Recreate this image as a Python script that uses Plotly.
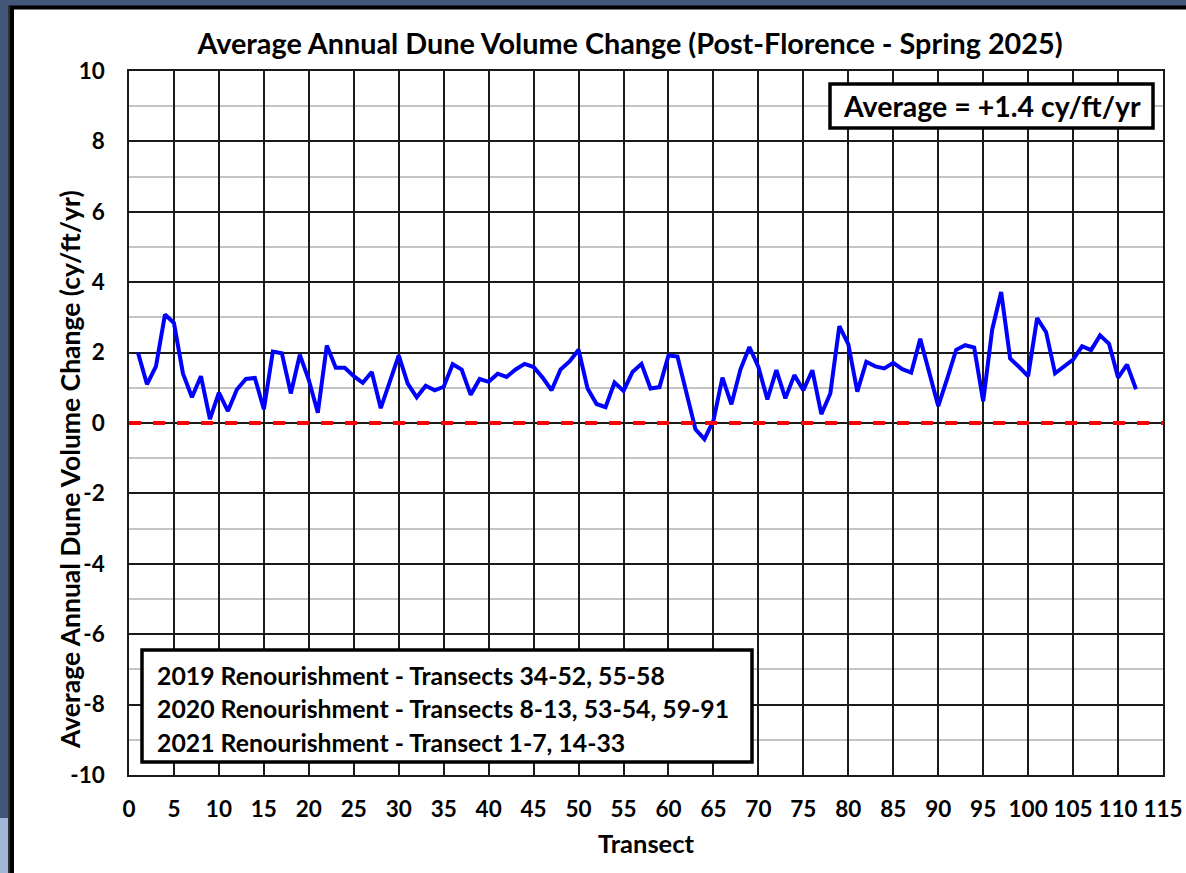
import plotly.graph_objects as go

# ---- data ----
transects = list(range(1, 113))
volume_change = [
    2.00, 1.10, 1.61, 3.08, 2.84, 1.41, 0.73, 1.33, 0.11, 0.86,
    0.34, 0.95, 1.25, 1.28, 0.39, 2.03, 1.98, 0.84, 1.94, 1.22,
    0.29, 2.20, 1.57, 1.57, 1.33, 1.14, 1.45, 0.42, 1.17, 1.92,
    1.12, 0.73, 1.06, 0.93, 1.03, 1.67, 1.52, 0.80, 1.25, 1.17,
    1.40, 1.31, 1.52, 1.68, 1.59, 1.29, 0.93, 1.52, 1.75, 2.08,
    0.98, 0.54, 0.45, 1.15, 0.91, 1.45, 1.68, 0.98, 1.02, 1.92,
    1.89, 0.84, -0.18, -0.46, 0.07, 1.29, 0.53, 1.52, 2.16, 1.59,
    0.67, 1.50, 0.70, 1.36, 0.93, 1.50, 0.25, 0.84, 2.75, 2.24,
    0.89, 1.74, 1.61, 1.55, 1.71, 1.53, 1.43, 2.39, 1.45, 0.48,
    1.26, 2.08, 2.21, 2.14, 0.62, 2.65, 3.72, 1.83, 1.59, 1.33,
    2.98, 2.58, 1.41, 1.62, 1.80, 2.18, 2.07, 2.49, 2.25, 1.29,
    1.66, 0.96,
]
x_ticks = list(range(0, 120, 5))
y_ticks = list(range(-10, 12, 2))
title_text = "Average Annual Dune Volume Change (Post-Florence - Spring 2025)"
x_title = "Transect"
y_title = "Average Annual Dune Volume Change (cy/ft/yr)"
average_text = "Average = +1.4 cy/ft/yr"
renourish_lines = [
    "2019 Renourishment - Transects 34-52, 55-58",
    "2020 Renourishment - Transects 8-13, 53-54, 59-91",
    "2021 Renourishment - Transect 1-7, 14-33",
]

FONT = "Lato"
W, H = 1186, 873
L, R, T, B = 129, 23, 71, 98
PW, PH = W - L - R, H - T - B


def px(xp):
    return (xp - L) / PW


def py(yp):
    return (H - B - yp) / PH


def bold(size):
    return dict(family=FONT, size=size, color="black", weight="bold")


fig = go.Figure()
fig.add_trace(go.Scatter(
    x=transects, y=volume_change, mode="lines",
    line=dict(color="#0000ff", width=4), showlegend=False,
))

shapes = [
    # white card with black border (frame)
    dict(type="rect", xref="paper", yref="paper",
         x0=px(12), x1=px(1240), y0=py(920), y1=py(7.5),
         fillcolor="white", line=dict(color="black", width=4), layer="below"),
    dict(type="line", xref="paper", yref="paper",
         x0=px(9), x1=px(9), y0=py(920), y1=py(5),
         line=dict(color="#2a2f3a", width=2), layer="below"),
    # lighter strip bottom left
    dict(type="rect", xref="paper", yref="paper",
         x0=px(-5), x1=px(8), y0=py(880), y1=py(818),
         fillcolor="#a3b6d6", line=dict(width=0), layer="below"),
    # zero reference line
    dict(type="line", xref="paper", yref="y", x0=0, x1=1, y0=0, y1=0,
         line=dict(color="#ff0000", width=4, dash="12px,12px"), layer="above"),
    # average box
    dict(type="rect", xref="paper", yref="paper",
         x0=px(830), x1=px(1153), y0=py(128), y1=py(84),
         fillcolor="white", line=dict(color="black", width=3.5), layer="above"),
    # renourishment box
    dict(type="rect", xref="paper", yref="paper",
         x0=px(142), x1=px(752), y0=py(762), y1=py(650),
         fillcolor="white", line=dict(color="black", width=3.5), layer="above"),
]

annotations = [
    dict(text=average_text, xref="paper", yref="paper",
         x=px(991.5), y=py(106), xanchor="center", yanchor="middle",
         showarrow=False, font=bold(28.5)),
    dict(text=x_title, xref="paper", yref="paper",
         x=px(646), y=py(843), xanchor="center", yanchor="middle",
         showarrow=False, font=bold(25.5)),
    dict(text=y_title, xref="paper", yref="paper", textangle=-90,
         x=px(70), y=py(470), xanchor="center", yanchor="middle",
         showarrow=False, font=bold(26.5)),
]
for i, line in enumerate(renourish_lines):
    annotations.append(dict(
        text=line, xref="paper", yref="paper",
        x=px(155), y=py(675 + 33.5 * i), xanchor="left", yanchor="middle",
        showarrow=False, font=bold(24.8)))

fig.update_layout(
    width=W, height=H, autosize=False,
    margin=dict(l=L, r=R, t=T, b=B, pad=0, autoexpand=False),
    paper_bgcolor="#425678",
    plot_bgcolor="white",
    title=dict(text=title_text, x=px(630), y=1 - 44 / H, xref="paper", yref="container",
               xanchor="center", yanchor="middle", font=bold(28.8)),
    shapes=shapes,
    annotations=annotations,
    showlegend=False,
)

fig.update_xaxes(
    range=[0, 115], tickvals=x_ticks, ticktext=[str(v) for v in x_ticks],
    showgrid=True, gridcolor="#1a1a1a", gridwidth=1.5,
    showline=True, linecolor="#1a1a1a", linewidth=1.5, mirror=True,
    zeroline=False, ticks="", ticklabelstandoff=13, automargin=False,
    ticklabeloverflow="allow",
    tickfont=bold(22.5),
)
fig.update_yaxes(
    range=[-10, 10], tickvals=y_ticks, ticktext=[str(v) for v in y_ticks],
    showgrid=True, gridcolor="#1a1a1a", gridwidth=1.5,
    minor=dict(dtick=1, tick0=-10, showgrid=True, gridcolor="#c4c4c4", gridwidth=1.5),
    showline=True, linecolor="#1a1a1a", linewidth=1.5, mirror=True,
    zeroline=False, ticks="", ticklabelstandoff=18, automargin=False,
    ticklabeloverflow="allow",
    tickfont=bold(22.5),
)

fig.write_html(
    "out.html",
    config={"displayModeBar": False, "responsive": False},
    post_script=(
        "document.documentElement.style.overflow='hidden';"
        "document.body.style.overflow='hidden';"
        "document.body.style.margin='0';"
        "document.body.style.background='white';"
    ),
)
